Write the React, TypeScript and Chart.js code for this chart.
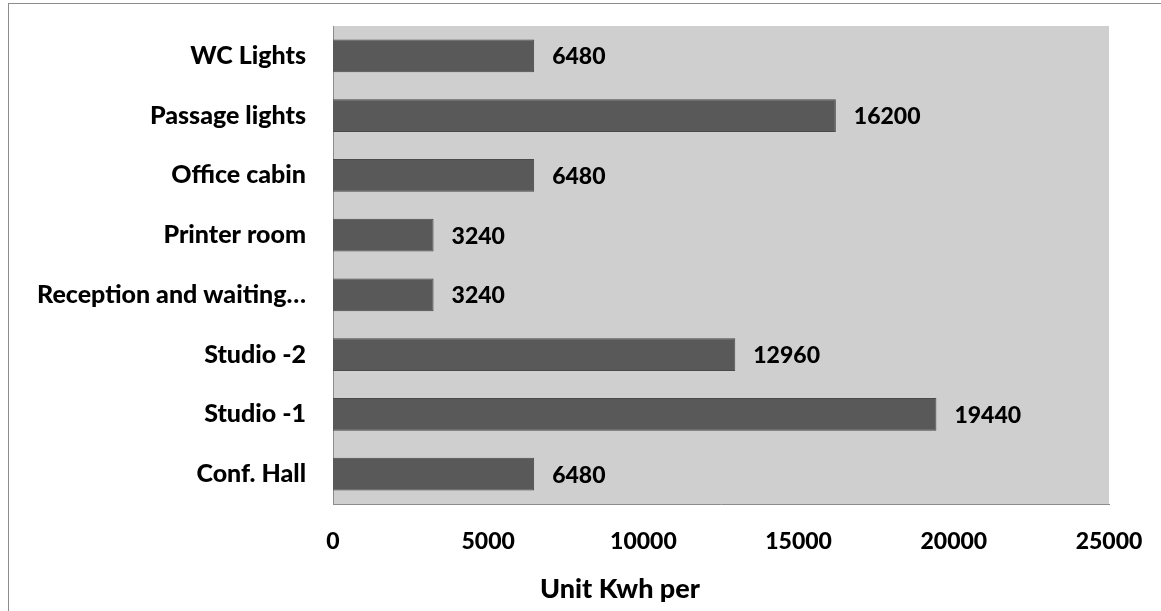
import React, { useEffect, useRef } from 'react';
import { Chart, registerables } from 'chart.js';

Chart.register(...registerables);

const categories = ['Conf. Hall', 'Studio -1', 'Studio -2', 'Reception and waiting…', 'Printer room', 'Office cabin', 'Passage lights', 'WC Lights'];
const values = [6480, 19440, 12960, 3240, 3240, 6480, 16200, 6480];
const xTickValues = [0, 5000, 10000, 15000, 20000, 25000];
const axisTitle = 'Unit Kwh per';

const FONT = 'Lato';
const W = '900';
const NUM_FS = 23;
const CAT_FS = 25;
const TITLE_FS = 27;

const bgPlugin = {
  id: 'bgPlugin',
  beforeDraw(chart: any) {
    const { ctx, chartArea: a } = chart;
    ctx.save();
    ctx.fillStyle = '#ffffff';
    ctx.fillRect(0, 0, chart.width, chart.height);
    ctx.strokeStyle = '#8c8c8c';
    ctx.lineWidth = 1;
    ctx.strokeRect(8.5, 3.5, chart.width + 50, chart.height + 50);
    ctx.fillStyle = '#d0cfd0';
    ctx.fillRect(a.left, a.top, a.right - a.left, a.bottom - a.top);
    ctx.restore();
  },
};

const labelPlugin = {
  id: 'labelPlugin',
  afterDatasetsDraw(chart: any) {
    const { ctx } = chart;
    const meta = chart.getDatasetMeta(0);
    ctx.save();
    ctx.font = `${W} ${NUM_FS}px ${FONT}`;
    ctx.fillStyle = '#000';
    ctx.textAlign = 'left';
    ctx.textBaseline = 'middle';
    meta.data.forEach((el: any, i: number) => {
      ctx.fillText(String(values[i]), el.x + 18, el.y + 1);
    });
    ctx.restore();
  },
  afterDraw(chart: any) {
    const { ctx } = chart;
    ctx.save();
    ctx.font = `${W} ${TITLE_FS}px ${FONT}`;
    ctx.fillStyle = '#000';
    ctx.textAlign = 'center';
    ctx.textBaseline = 'alphabetic';
    ctx.fillText(axisTitle, 620, 598);
    ctx.restore();
  },
};

export default function App() {
  const ref = useRef<HTMLCanvasElement | null>(null);
  useEffect(() => {
    if (!ref.current) return;
    const chart = new Chart(ref.current, {
      type: 'bar',
      data: {
        labels: categories,
        datasets: [
          {
            data: values,
            backgroundColor: '#595959',
            borderColor: '#4a4a4a',
            borderWidth: 1,
            barPercentage: 0.55,
            categoryPercentage: 1,
          },
        ],
      },
      options: {
        indexAxis: 'y',
        animation: false,
        responsive: false,
        maintainAspectRatio: false,
        layout: { padding: { left: 0, top: 26, right: 52, bottom: 0 } },
        plugins: { legend: { display: false }, tooltip: { enabled: false } },
        scales: {
          x: {
            type: 'linear',
            min: 0,
            max: 25000,
            afterBuildTicks: (s: any) => {
              s.ticks = xTickValues.map((v) => ({ value: v }));
            },
            afterFit: (s: any) => {
              s.height = 107;
              s.paddingLeft = 0;
              s.paddingRight = 0;
            },
            grid: { display: false, drawTicks: false },
            border: { display: true, color: '#8c8c8c', width: 1 },
            ticks: {
              color: '#000',
              padding: 24,
              font: { family: FONT, size: NUM_FS, weight: W },
              maxRotation: 0,
              autoSkip: false,
              callback: (v: any) => String(v),
            },
          },
          y: {
            reverse: true,
            afterFit: (s: any) => {
              s.width = 333;
              s.paddingTop = 0;
              s.paddingBottom = 0;
            },
            grid: { display: false, drawTicks: false },
            border: { display: true, color: '#8c8c8c', width: 1 },
            ticks: {
              color: '#000',
              padding: 27,
              font: { family: FONT, size: CAT_FS, weight: W },
              autoSkip: false,
            },
          },
        },
      },
      plugins: [bgPlugin, labelPlugin],
    } as any);
    return () => chart.destroy();
  }, []);
  return (
    <div style={{ position: 'absolute', left: 0, top: 0, width: 1161, height: 611 }}>
      <canvas ref={ref} width={1161} height={611} style={{ display: 'block', width: 1161, height: 611 }} />
    </div>
  );
}
